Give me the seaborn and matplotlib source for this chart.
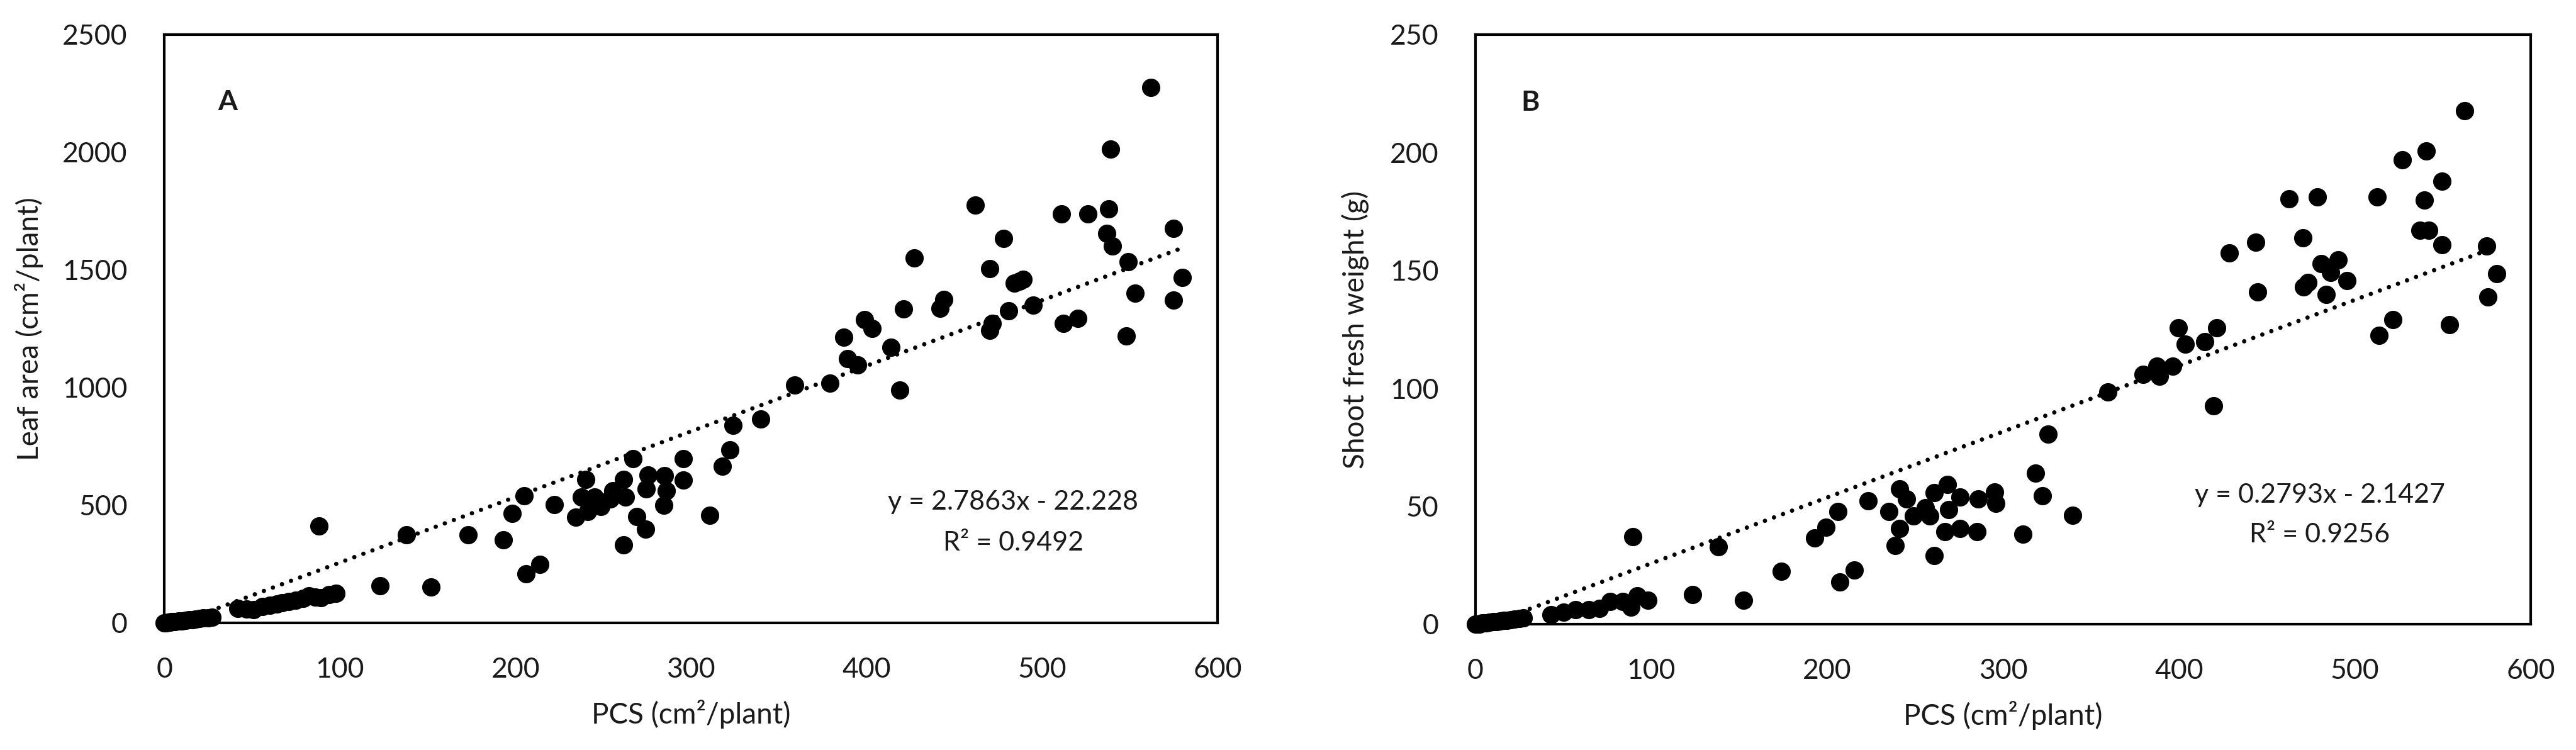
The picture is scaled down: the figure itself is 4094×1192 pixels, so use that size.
import numpy as np
import pandas as pd
import matplotlib
matplotlib.use("Agg")
import matplotlib.pyplot as plt
import seaborn as sns

# ---- data ----
# Panel A: PCS vs leaf area
pcs_a = [0, 1, 2, 3, 4, 5, 6, 8, 10, 12, 14, 16, 18, 20, 22, 25, 27,
         42, 47, 51, 56, 60, 64, 67, 71, 75, 79, 82.5, 86, 89, 94, 97.6,
         88, 123, 138, 152, 173, 193, 198, 205, 206, 214, 222,
         234.5, 237.6, 240, 241, 245, 248.6, 254, 255.6, 261.4, 261.4, 262.8,
         267, 269, 274, 274.6, 275.5, 284.4, 285, 286, 295.5, 295.5,
         310.7, 318, 322, 324, 339.6, 359, 379, 387, 389, 395, 399, 403, 414,
         419, 421, 427, 442, 444, 462, 470, 471.5, 470, 478, 481, 484, 487,
         489, 495, 511, 512, 520.5, 526, 537, 538, 539, 540, 548, 549, 553,
         562, 575, 575, 580]
leaf_area = [0, 1, 2, 3, 4, 5, 5, 7, 9, 11, 12, 14, 16, 18, 20, 22, 25,
             62, 58, 56, 70, 76, 80, 86, 90, 96, 104, 116, 110, 106, 120, 126,
             412, 157, 374, 151, 374, 352, 466, 539, 208, 249, 503,
             450, 535, 610, 473, 535, 495, 526, 561, 331, 610, 535,
             698, 453, 397, 569, 628, 501, 626, 561, 698, 608,
             457, 666, 735, 840, 867, 1011, 1019, 1215, 1124, 1096, 1289, 1252, 1170,
             990, 1334, 1550, 1337, 1373, 1774, 1244, 1272, 1505, 1633, 1325, 1443, 1452,
             1461, 1349, 1737, 1273, 1295, 1737, 1654, 1760, 2014, 1602, 1220, 1534, 1401,
             2275, 1677, 1371, 1468]

# Panel B: PCS vs shoot fresh weight
pcs_b = [0, 1, 2, 3, 4, 5, 6, 8, 10, 12, 14, 16, 18, 20, 22, 25, 27,
         43, 50, 57, 64.4, 70.5, 76.5, 83.7, 88.5, 92, 98,
         89.5, 123.3, 138, 152.4, 174, 193, 199.4, 206.2, 207, 215.4, 223.3,
         235.2, 238.5, 241.1, 241.1, 245, 249, 255.7, 258.3, 261, 261,
         267, 268.3, 269, 275.5, 275.5, 285.3, 286, 295.2, 295.9,
         311.3, 318.4, 322.3, 325.5, 339.4, 359.4, 379.5, 387.6, 389, 396.6,
         399.5, 403.5, 414.6, 419.7, 421.5, 428.6, 443.5, 444.6, 462.6, 470.5,
         471, 473.3, 478.7, 481, 483.7, 486.4, 490.5, 495.5, 512.7, 513.8,
         521.5, 527, 536.9, 539.5, 540.6, 542, 549.6, 549.6, 553.9, 562.6,
         575, 575.7, 580.7]
shoot_fw = [0, 0, 0, 0.3, 0.5, 0.5, 0.6, 0.8, 1, 1.1, 1.3, 1.5, 1.7, 1.9, 2.1, 2.4, 2.6,
            4, 5, 6, 6, 6.7, 9.5, 9.5, 7.1, 12.1, 10.1,
            37, 12.5, 32.8, 10.1, 22.4, 36.5, 41, 47.7, 17.8, 22.9, 52.2,
            47.7, 33.4, 57.4, 40.5, 53, 45.9, 49.4, 45.9, 55.8, 29.1,
            39.2, 59.2, 48.6, 53.9, 40.5, 39.2, 53, 56.1, 51.2,
            38.2, 64.1, 54.3, 80.6, 46.2, 98.5, 105.9, 109.4, 105, 109.4,
            125.7, 118.6, 119.9, 92.6, 125.7, 157.5, 162, 140.9, 180.4, 163.9,
            143, 144.9, 181.2, 153, 139.7, 149.2, 154.6, 145.7, 181.2, 122.5,
            129.2, 196.9, 167, 179.8, 200.6, 167, 187.9, 161, 127, 217.7,
            160.3, 138.8, 148.6]

# trendline coefficients as printed on the chart
fit_a = (2.7863, -22.228)
fit_b = (0.2793, -2.1427)
eq_a = ["y = 2.7863x - 22.228", "R² = 0.9492"]
eq_b = ["y = 0.2793x - 2.1427", "R² = 0.9256"]

sns.set_theme(style="white")
plt.rcParams['font.family'] = ['Lato', 'DejaVu Sans']
TXT = '#1a1a1a'

fig = plt.figure(figsize=(40.94, 11.92), dpi=100)
ax_a = fig.add_axes([0.0638, 0.1695, 0.4089, 0.7844])
ax_b = fig.add_axes([0.5728, 0.1678, 0.4096, 0.7861])

panels = [
    (ax_a, pcs_a, leaf_area, fit_a, eq_a, "A", "Leaf area (cm²/plant)",
     2500, 500, (0.06, 0.885), (0.806, 0.205, 0.136), -0.115),
    (ax_b, pcs_b, shoot_fw, fit_b, eq_b, "B", "Shoot fresh weight (g)",
     250, 50, (0.052, 0.885), (0.80, 0.219, 0.152), -0.101),
]

for ax, xs, ys, fit, eq, tag, ylab, ymax, ystep, tagpos, eqpos, ylab_x in panels:
    df = pd.DataFrame({"x": xs, "y": ys})
    # markers sitting on the axis are drawn whole, as in the original
    sns.scatterplot(data=df, x="x", y="y", ax=ax, color="black", s=440,
                    linewidth=0, zorder=3, legend=False, clip_on=False)
    # dotted linear trendline over the data range
    xl = np.array([min(xs), max(xs)])
    tl = pd.DataFrame({"x": xl, "y": fit[0] * xl + fit[1]})
    sns.lineplot(data=tl, x="x", y="y", ax=ax, color="black", lw=5,
                 linestyle=(0, (0.01, 2.2)), dash_capstyle="round", zorder=4)

    ax.set_xlim(0, 600)
    ax.set_ylim(0, ymax)
    ax.set_xticks(np.arange(0, 601, 100))
    ax.set_yticks(np.arange(0, ymax + 1, ystep))
    for sp in ax.spines.values():
        sp.set_visible(True)
        sp.set_linewidth(3)
        sp.set_color("black")
    ax.tick_params(axis="both", direction="in", length=12, width=3,
                   labelsize=32, labelcolor=TXT, color="black")
    ax.tick_params(axis="y", pad=42)
    ax.tick_params(axis="x", pad=39)
    ax.set_xlabel("PCS (cm²/plant)", fontsize=33, color=TXT)
    ax.set_ylabel(ylab, fontsize=33, color=TXT)
    ax.xaxis.set_label_coords(0.5, -0.13)
    ax.yaxis.set_label_coords(ylab_x, 0.5)

    ax.text(tagpos[0], tagpos[1], tag, transform=ax.transAxes, fontsize=32,
            fontweight="bold", color=TXT, ha="center", va="center")
    ax.text(eqpos[0], eqpos[1], eq[0], transform=ax.transAxes, fontsize=31,
            color=TXT, ha="center", va="center")
    ax.text(eqpos[0], eqpos[2], eq[1], transform=ax.transAxes, fontsize=31,
            color=TXT, ha="center", va="center")

fig.savefig("out.png", dpi=100)
